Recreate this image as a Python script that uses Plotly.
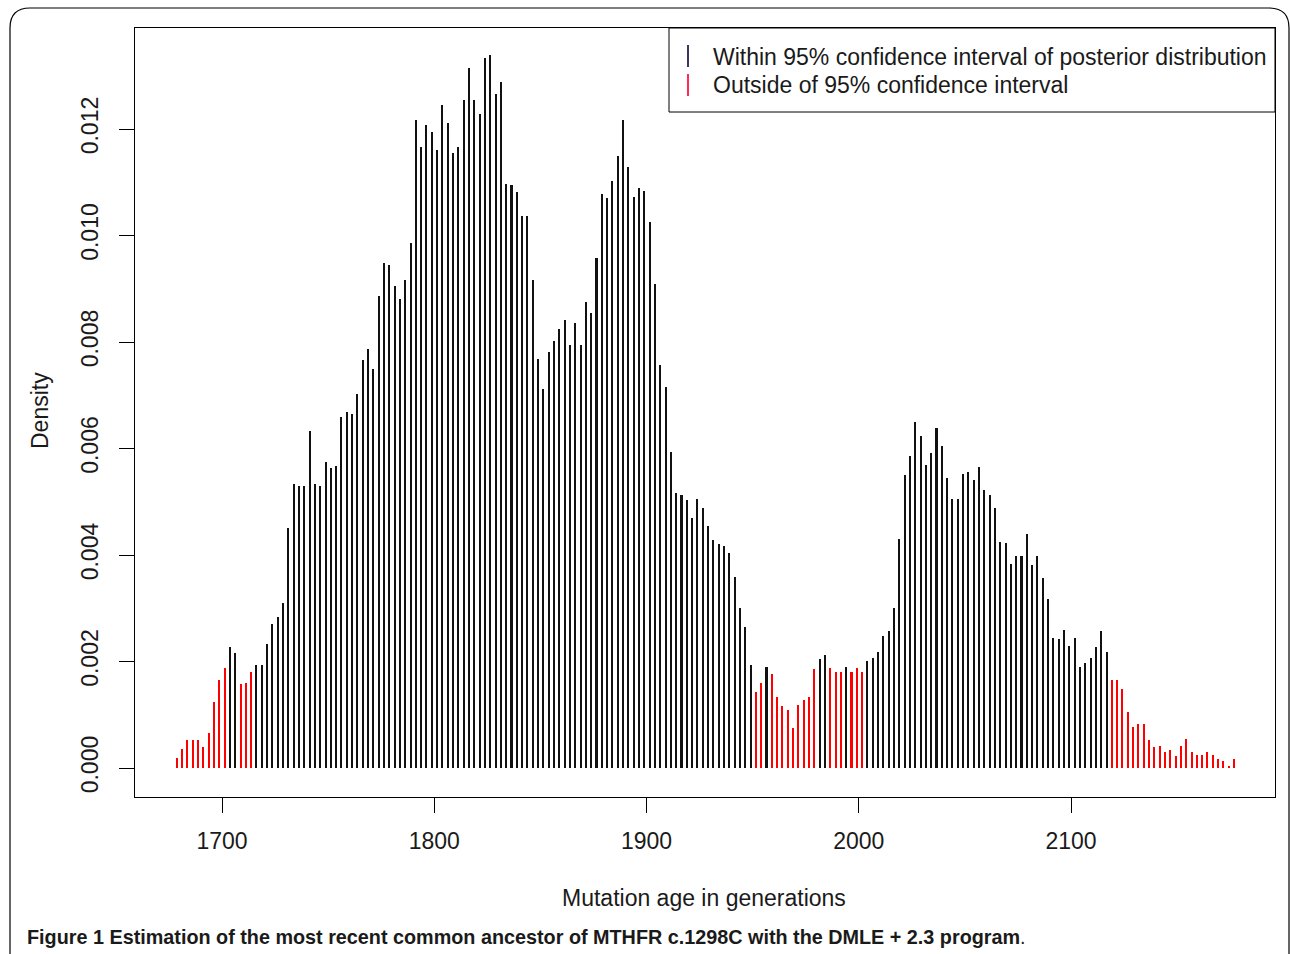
import numpy as np
import plotly.graph_objects as go

# ---- data (density per generation bin) ----
density = [
    0.00019, 0.00036, 0.00053, 0.00053, 0.00053, 0.00039, 0.00066, 0.00124, 0.00166, 0.00188,
    0.00228, 0.00216, 0.00157, 0.00160, 0.00180, 0.00193, 0.00193, 0.00233, 0.00270, 0.00284,
    0.00309, 0.00451, 0.00533, 0.00530, 0.00530, 0.00632, 0.00533, 0.00530, 0.00575, 0.00563,
    0.00568, 0.00660, 0.00669, 0.00665, 0.00702, 0.00766, 0.00787, 0.00750, 0.00886, 0.00949,
    0.00944, 0.00905, 0.00881, 0.00917, 0.00986, 0.01217, 0.01166, 0.01207, 0.01195, 0.01160,
    0.01245, 0.01212, 0.01155, 0.01166, 0.01254, 0.01314, 0.01254, 0.01229, 0.01333, 0.01339,
    0.01265, 0.01289, 0.01097, 0.01094, 0.01081, 0.01036, 0.01036, 0.00917, 0.00768, 0.00711,
    0.00782, 0.00801, 0.00825, 0.00841, 0.00795, 0.00835, 0.00794, 0.00875, 0.00854, 0.00957,
    0.01078, 0.01070, 0.01103, 0.01149, 0.01217, 0.01128, 0.01073, 0.01089, 0.01084, 0.01026,
    0.00909, 0.00757, 0.00715, 0.00593, 0.00516, 0.00513, 0.00503, 0.00470, 0.00505, 0.00489,
    0.00455, 0.00428, 0.00420, 0.00417, 0.00403, 0.00359, 0.00301, 0.00265, 0.00193, 0.00143,
    0.00160, 0.00190, 0.00176, 0.00133, 0.00117, 0.00108, 0.00075, 0.00119, 0.00127, 0.00133,
    0.00185, 0.00204, 0.00213, 0.00188, 0.00180, 0.00180, 0.00190, 0.00180, 0.00187, 0.00180,
    0.00201, 0.00207, 0.00218, 0.00248, 0.00257, 0.00300, 0.00430, 0.00550, 0.00585, 0.00649,
    0.00624, 0.00569, 0.00591, 0.00638, 0.00604, 0.00544, 0.00505, 0.00505, 0.00553, 0.00555,
    0.00541, 0.00566, 0.00522, 0.00513, 0.00489, 0.00425, 0.00422, 0.00384, 0.00398, 0.00398,
    0.00439, 0.00381, 0.00398, 0.00356, 0.00317, 0.00245, 0.00243, 0.00259, 0.00229, 0.00245,
    0.00190, 0.00198, 0.00207, 0.00227, 0.00257, 0.00218, 0.00165, 0.00165, 0.00148, 0.00105,
    0.00077, 0.00083, 0.00083, 0.00053, 0.00039, 0.00041, 0.00030, 0.00033, 0.00022, 0.00041,
    0.00055, 0.00030, 0.00024, 0.00024, 0.00030, 0.00024, 0.00016, 0.00014, 0.00003, 0.00016,
]
# grid of mutation ages (regular grid of the posterior density)
age_first = 1678.7
age_last = 2176.8
ages = np.linspace(age_first, age_last, len(density))

# 1-based bin numbers lying outside the 95% interval (drawn red)
outside_bins = (list(range(1, 11)) + [13, 14, 15, 110, 111] + list(range(113, 122))
                + [124, 125, 126, 128, 129, 130] + list(range(177, 201)))

x_ticks = [1700, 1800, 1900, 2000, 2100]
y_ticks = [0.000, 0.002, 0.004, 0.006, 0.008, 0.010, 0.012]
y_tick_text = ["0.000", "0.002", "0.004", "0.006", "0.008", "0.010", "0.012"]
legend_labels = ["Within 95% confidence interval of posterior distribution",
                 "Outside of 95% confidence interval"]
x_title = "Mutation age in generations"
y_title = "Density"
caption_bold = "Figure 1 Estimation of the most recent common ancestor of MTHFR c.1298C with the DMLE + 2.3 program"

# ---- layout geometry (pixels) ----
W, H = 1290, 954
PL, PR, PT, PB = 135, 1275, 28, 797   # plot box
BLACK = "#111111"
RED = "#ff0000"
FONT = "Liberation Sans, Arial, sans-serif"


def px(x):
    return (x - PL) / (PR - PL)


def py(y):
    return (PB - y) / (PB - PT)


in_x = [a for i, a in enumerate(ages) if (i + 1) not in outside_bins]
in_y = [d for i, d in enumerate(density) if (i + 1) not in outside_bins]
out_x = [a for i, a in enumerate(ages) if (i + 1) in outside_bins]
out_y = [d for i, d in enumerate(density) if (i + 1) in outside_bins]

fig = go.Figure()
fig.add_trace(go.Bar(x=in_x, y=in_y, width=0.95, marker=dict(color=BLACK, line=dict(width=0)),
                     name=legend_labels[0]))
fig.add_trace(go.Bar(x=out_x, y=out_y, width=0.95, marker=dict(color=RED, line=dict(width=0)),
                     name=legend_labels[1]))

# x range / y range so that ticks land where they do in the reference
ppu_x = (1071 - 222) / 400.0
x_lo = 1700 - (222 - PL) / ppu_x
x_hi = 1700 + (PR - 222) / ppu_x
ppu_y = (768 - 129) / 0.012
y_lo = -(PB - 768) / ppu_y
y_hi = (768 - PT) / ppu_y

axis_font = dict(family=FONT, size=23, color="#1a1a1a")

fig.update_layout(
    width=W, height=H,
    margin=dict(l=PL, r=W - PR, t=PT, b=H - PB, autoexpand=False),
    paper_bgcolor="white", plot_bgcolor="white",
    barmode="overlay", bargap=0, showlegend=False,
    font=dict(family=FONT, color="#1a1a1a"),
    xaxis=dict(range=[x_lo, x_hi], tickvals=x_ticks, ticktext=[str(t) for t in x_ticks],
               ticks="outside", ticklen=15, tickcolor="black", tickwidth=1,
               showline=True, mirror=True, linecolor="black", linewidth=1,
               showgrid=False, zeroline=False, tickfont=axis_font, ticklabelstandoff=8),
    yaxis=dict(range=[y_lo, y_hi], tickvals=y_ticks, ticktext=y_tick_text, tickangle=-90,
               ticks="outside", ticklen=15, tickcolor="black", tickwidth=1,
               showline=True, mirror=True, linecolor="black", linewidth=1,
               showgrid=False, zeroline=False, tickfont=axis_font, ticklabelstandoff=12),
)

shapes = []
# legend box
shapes.append(dict(type="rect", xref="paper", yref="paper", x0=px(669), x1=px(1275), y0=py(112), y1=py(28),
                   line=dict(color="black", width=1), fillcolor="white", layer="above"))
# legend keys (short vertical lines)
shapes.append(dict(type="line", xref="paper", yref="paper", x0=px(688), x1=px(688), y0=py(67), y1=py(45),
                   line=dict(color="#3d3560", width=2), layer="above"))
shapes.append(dict(type="line", xref="paper", yref="paper", x0=px(688), x1=px(688), y0=py(96), y1=py(74),
                   line=dict(color="#ff2a55", width=2), layer="above"))
# outer rounded frame of the figure panel
fx0, fy0, fx1, fy1, rad = 10, 8, 1289, 960, 20
frame_path = (f"M {px(fx0)},{py(fy1)} L {px(fx0)},{py(fy0 + rad)} "
              f"Q {px(fx0)},{py(fy0)} {px(fx0 + rad)},{py(fy0)} "
              f"L {px(fx1 - rad)},{py(fy0)} Q {px(fx1)},{py(fy0)} {px(fx1)},{py(fy0 + rad)} "
              f"L {px(fx1)},{py(fy1)}")
shapes.append(dict(type="path", xref="paper", yref="paper", path=frame_path,
                   line=dict(color="black", width=1.2), layer="above"))
fig.update_layout(shapes=shapes)

annotations = [
    dict(text=legend_labels[0], x=px(711), y=py(57), xref="paper", yref="paper",
         xanchor="left", yanchor="middle", showarrow=False, font=dict(family=FONT, size=23, color="#1a1a1a")),
    dict(text=legend_labels[1], x=px(711), y=py(85), xref="paper", yref="paper",
         xanchor="left", yanchor="middle", showarrow=False, font=dict(family=FONT, size=23, color="#1a1a1a")),
    dict(text=x_title, x=px(704), y=py(898), xref="paper", yref="paper",
         xanchor="center", yanchor="middle", showarrow=False, font=dict(family=FONT, size=23, color="#1a1a1a")),
    dict(text=y_title, x=px(40), y=py(411), xref="paper", yref="paper", textangle=-90,
         xanchor="center", yanchor="middle", showarrow=False, font=dict(family=FONT, size=23, color="#1a1a1a")),
    dict(text="<b>" + caption_bold + "</b>.", x=px(25), y=py(937), xref="paper", yref="paper",
         xanchor="left", yanchor="middle", showarrow=False, font=dict(family=FONT, size=19.8, color="#1a1a1a")),
]
fig.update_layout(annotations=annotations)

fig.write_html("out.html", config={"displayModeBar": False},
               post_script="document.body.style.margin='0';document.body.style.overflow='hidden';")
